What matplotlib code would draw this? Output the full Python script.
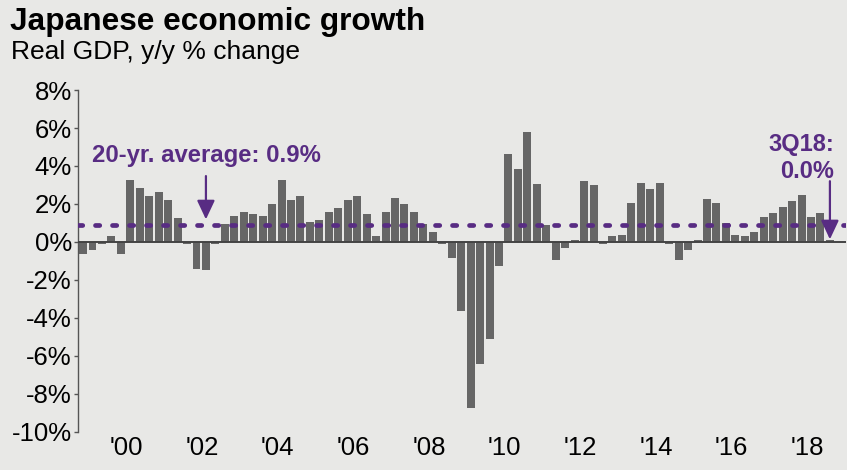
import matplotlib
matplotlib.use("Agg")
import matplotlib.pyplot as plt
import numpy as np

plt.rcParams['font.family'] = ['Liberation Sans', 'DejaVu Sans']

# Real GDP y/y % change, quarterly 4Q98 .. 3Q18
gdp = [-0.63, -0.44, -0.10, 0.33, -0.65, 3.28, 2.86, 2.44, 2.65, 2.23,
       1.28, -0.12, -1.44, -1.49, -0.12, 0.96, 1.39, 1.60, 1.49, 1.39,
       2.02, 3.28, 2.23, 2.44, 1.07, 1.18, 1.60, 1.81, 2.23, 2.44,
       1.49, 0.33, 1.60, 2.33, 2.02, 1.60, 0.96, 0.54, -0.12, -0.86,
       -3.63, -8.74, -6.42, -5.11, -1.26, 4.61, 3.82, 5.77, 3.07, 0.88,
       -0.95, -0.32, 0.12, 3.21, 3.00, -0.12, 0.34, 0.39, 2.04, 3.10,
       2.78, 3.10, -0.12, -0.94, -0.44, 0.12, 2.25, 2.04, 0.98, 0.39,
       0.34, 0.55, 1.29, 1.51, 1.83, 2.15, 2.46, 1.29, 1.51, 0.12]
avg = 0.9
latest_label = "3Q18"
latest_value = 0.0
year_labels = ["'00", "'02", "'04", "'06", "'08", "'10", "'12", "'14", "'16", "'18"]
first_q1_2000 = 5  # index of 1Q00 in gdp

bg = '#E8E8E6'
purple = '#582C83'
bar_color = '#666666'

fig = plt.figure(figsize=(8.47, 4.70), dpi=100, facecolor=bg)
ax = fig.add_axes([0.0921, 0.0809, 0.9067, 0.7276], facecolor=bg)

x = np.arange(len(gdp))
ax.bar(x, gdp, width=0.84, color=bar_color, zorder=2)
ax.axhline(0, color='#444444', lw=1.4, zorder=3)
ax.axhline(avg, color=purple, lw=3.4, linestyle=(0, (0.9, 2.7)),
           dash_capstyle='round', zorder=4)

ax.set_xlim(-0.53, 80.7)
ax.set_ylim(-10, 8)
ax.set_yticks(np.arange(-10, 9, 2))
ax.set_yticklabels([f'{v}%' for v in range(-10, 9, 2)], fontsize=18.5)
ticks = [first_q1_2000 - 0.4 + 8 * k for k in range(len(year_labels))]
ax.set_xticks(ticks)
ax.set_xticklabels(year_labels, fontsize=18.5)
ax.tick_params(axis='x', length=0, pad=3)
ax.tick_params(axis='y', length=3, width=1, color='#555555', pad=1.5)
for s in ['top', 'right', 'bottom']:
    ax.spines[s].set_visible(False)
ax.spines['left'].set_color('#555555')
ax.spines['left'].set_linewidth(1)

# annotations
arrow = dict(arrowstyle='-|>,head_width=0.54,head_length=1.15',
             color=purple, lw=1.6, shrinkA=0, shrinkB=0)
ax.text(0.9, 4.23, f'20-yr. average: {avg}%', color=purple, fontsize=17.2,
        fontweight='bold', va='baseline', ha='left')
ax.annotate('', xy=(13, 1.19), xytext=(13, 3.47), arrowprops=arrow, zorder=5)
ax.text(79.45, 3.38, f'{latest_label}:\n{latest_value:.1f}%', color=purple,
        fontsize=17, fontweight='bold', ha='right', va='baseline',
        linespacing=1.2)
ax.annotate('', xy=(79, 0.14), xytext=(79, 3.2), arrowprops=arrow, zorder=5)

fig.text(0.0118, 0.9362, 'Japanese economic growth', fontsize=22.8,
         fontweight='bold', va='baseline', ha='left')
fig.text(0.0125, 0.8745, 'Real GDP, y/y % change', fontsize=19,
         va='baseline', ha='left')

fig.savefig('out.png', dpi=100, facecolor=bg)
